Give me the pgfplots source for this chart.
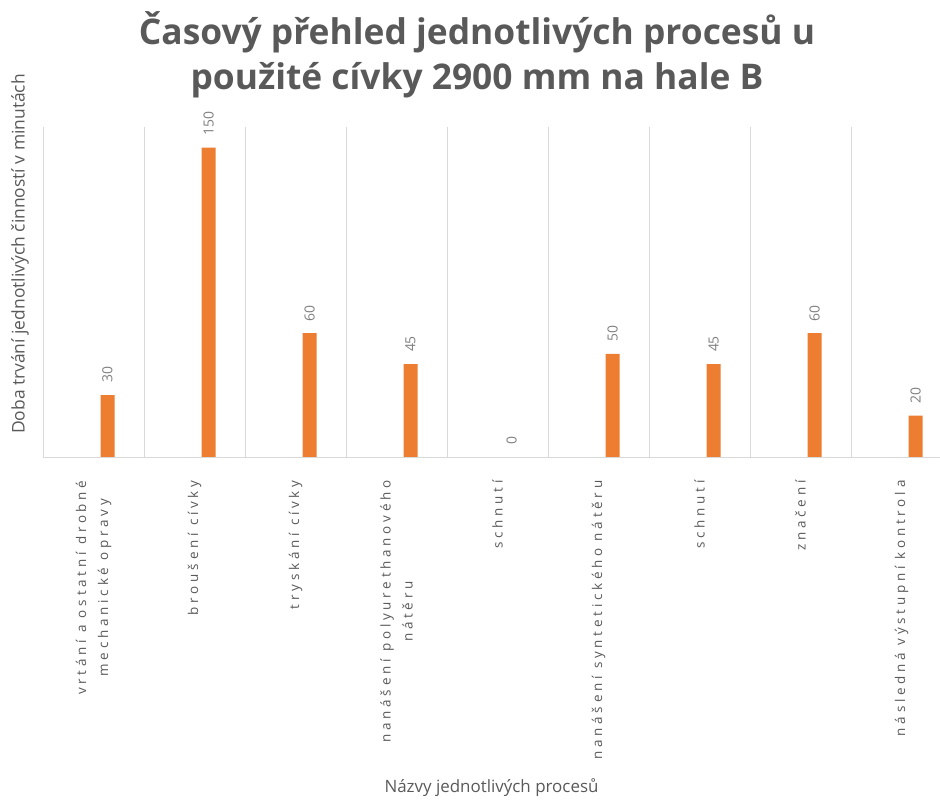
\documentclass[border=0pt]{standalone}
\usepackage{fontspec}
\setmainfont{Open Sans}
\newfontfamily\tickfont[LetterSpace=28]{Open Sans}
\usepackage{pgfplots}
\pgfplotsset{compat=1.18}
\definecolor{barc}{HTML}{ED7D31}
\definecolor{txt}{HTML}{595959}
\definecolor{lbl}{HTML}{808080}
\definecolor{grd}{HTML}{D9D9D9}
\begin{document}
\begin{tikzpicture}
\useasboundingbox (0,0) rectangle (940bp,800bp);
\begin{axis}[
  at={(43bp,343bp)}, anchor=south west,
  scale only axis, width=897bp, height=330bp,
  xmin=-0.5, xmax=8.38, ymin=0, ymax=160,
  ybar, bar width=14bp, bar shift=14bp,
  axis y line=none, axis x line=bottom,
  x axis line style={draw=grd, line width=1bp, -},
  xtick={0,...,8}, major tick length=0, ytick=\empty,
  /pgf/number format/assume math mode=true,
  xticklabels={{vrtání a ostatní drobné\\mechanické opravy},{broušení cívky},{tryskání cívky},{nanášení polyurethanového\\nátěru},{schnutí},{nanášení syntetického nátěru},{schnutí},{značení},{následná výstupní kontrola}},
  xticklabel style={rotate=90, anchor=east, align=center, font=\tickfont\fontsize{13.5}{22}\selectfont, text=txt},
  xticklabel shift=20bp,
  extra x ticks={-0.5,0.5,...,7.5}, extra x tick labels={},
  extra x tick style={grid=major, major grid style={draw=grd, line width=1bp}},
  nodes near coords,
  nodes near coords style={rotate=90, anchor=west, font=\fontsize{14}{16}\selectfont, text=lbl, inner xsep=12bp, inner ysep=0pt},
  xlabel={Názvy jednotlivých procesů},
  xlabel style={at={(axis description cs:0.5,0)}, anchor=base, yshift=-335bp, font=\fontsize{17}{19}\selectfont, text=txt},
]
\addplot[fill=barc, draw=none] coordinates {(0,30) (1,150) (2,60) (3,45) (4,0) (5,50) (6,45) (7,60) (8,20)};
\end{axis}
\node[rotate=90, anchor=center, font=\fontsize{17.5}{19}\selectfont, text=txt] at (20bp,546bp) {Doba trvání jednotlivých činností v minutách};
\node[align=center, font=\bfseries\fontsize{35.5}{45}\selectfont, text=txt] at (477bp,745bp) {Časový přehled jednotlivých procesů u\\použité cívky 2900 mm na hale B};
\end{tikzpicture}
\end{document}
